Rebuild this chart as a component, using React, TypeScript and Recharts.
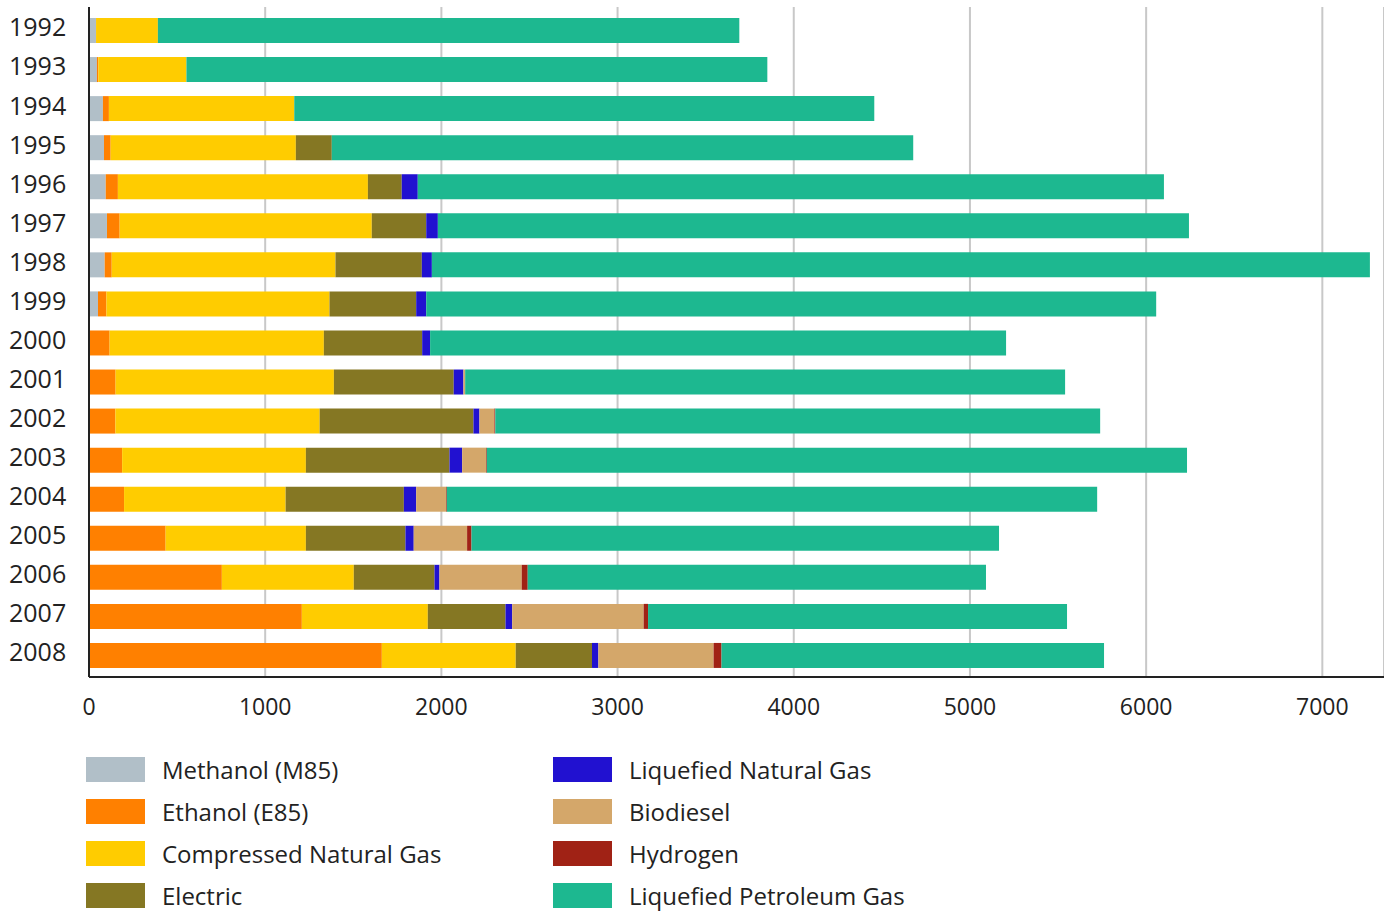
import { Bar, BarChart, CartesianGrid, XAxis, YAxis } from "recharts";

// Years, top to bottom
const years = ["1992", "1993", "1994", "1995", "1996", "1997", "1998", "1999", "2000", "2001", "2002", "2003", "2004", "2005", "2006", "2007", "2008"];

// Series values
const methanol = [40, 45, 79, 85, 95, 102, 89, 51, 0, 0, 0, 0, 0, 0, 0, 0, 0];
const ethanol = [0, 8, 34, 38, 69, 72, 40, 48, 117, 151, 150, 188, 199, 435, 754, 1208, 1662];
const cng = [351, 500, 1052, 1051, 1419, 1431, 1270, 1266, 1216, 1239, 1159, 1043, 917, 796, 749, 715, 760];
const electric = [0, 0, 0, 204, 192, 309, 490, 492, 558, 680, 873, 815, 671, 565, 458, 441, 433];
const lng = [0, 0, 0, 0, 91, 66, 57, 57, 45, 55, 34, 72, 70, 47, 28, 38, 36];
const biodiesel = [0, 0, 0, 0, 0, 0, 0, 0, 0, 10, 85, 136, 170, 303, 467, 746, 654];
const hydrogen = [0, 0, 0, 0, 0, 0, 0, 0, 0, 0, 5, 4, 4, 25, 34, 25, 45];
const lpg = [3300, 3297, 3292, 3300, 4235, 4263, 5324, 4143, 3269, 3405, 3433, 3974, 3691, 2994, 2601, 2378, 2171];

const xTicks = [0, 1000, 2000, 3000, 4000, 5000, 6000, 7000];

const series = [
  { key: "methanol", name: "Methanol (M85)", color: "#b1bfc8", values: methanol },
  { key: "ethanol", name: "Ethanol (E85)", color: "#ff8000", values: ethanol },
  { key: "cng", name: "Compressed Natural Gas", color: "#ffcc00", values: cng },
  { key: "electric", name: "Electric", color: "#857723", values: electric },
  { key: "lng", name: "Liquefied Natural Gas", color: "#2111d0", values: lng },
  { key: "biodiesel", name: "Biodiesel", color: "#d4a76a", values: biodiesel },
  { key: "hydrogen", name: "Hydrogen", color: "#a02215", values: hydrogen },
  { key: "lpg", name: "Liquefied Petroleum Gas", color: "#1db890", values: lpg },
];

const data = years.map((year, i) => {
  const row: Record<string, any> = { year };
  series.forEach((s) => {
    row[s.key] = s.values[i];
  });
  return row;
});

const font = "'Open Sans', sans-serif";

export default function App() {
  return (
    <div style={{ position: "absolute", left: 0, top: 0, width: 1384, height: 913, background: "#fff", fontFamily: font }}>
      <BarChart
        layout="vertical"
        width={1384}
        height={737}
        data={data}
        margin={{ top: 7, right: 0, bottom: 0, left: 0 }}
        barSize={25}
      >
        <CartesianGrid horizontal={false} stroke="#c8c8c8" strokeWidth={2} />
        <XAxis
          type="number"
          domain={[0, 7350]}
          ticks={xTicks}
          allowDataOverflow
          height={60}
          tickLine={false}
          axisLine={{ stroke: "#222", strokeWidth: 2 }}
          tick={{ fill: "#222", fontSize: 23, fontFamily: font }}
          tickMargin={16}
        />
        <YAxis
          type="category"
          dataKey="year"
          width={89}
          padding={{ top: 4, bottom: 2 }}
          tickLine={false}
          axisLine={{ stroke: "#222", strokeWidth: 2 }}
          tick={{ fill: "#222", fontSize: 25, fontFamily: font, textAnchor: "start", dx: -72, dy: -3 }}
          interval={0}
        />
        {series.map((s) => (
          <Bar key={s.key} dataKey={s.key} name={s.name} stackId="a" fill={s.color} isAnimationActive={false} />
        ))}
      </BarChart>
      {/* legend, two columns of four */}
      {series.map((s, i) => {
        const col = i < 4 ? 0 : 1;
        const row = i % 4;
        return (
          <div
            key={s.key}
            style={{
              position: "absolute",
              left: col === 0 ? 86 : 553,
              top: 757 + row * 42,
              display: "flex",
              alignItems: "center",
              height: 25,
            }}
          >
            <span style={{ width: 59, height: 25, background: s.color, display: "inline-block" }} />
            <span style={{ marginLeft: 17, fontSize: 24, color: "#222", whiteSpace: "nowrap", lineHeight: "25px" }}>{s.name}</span>
          </div>
        );
      })}
    </div>
  );
}
